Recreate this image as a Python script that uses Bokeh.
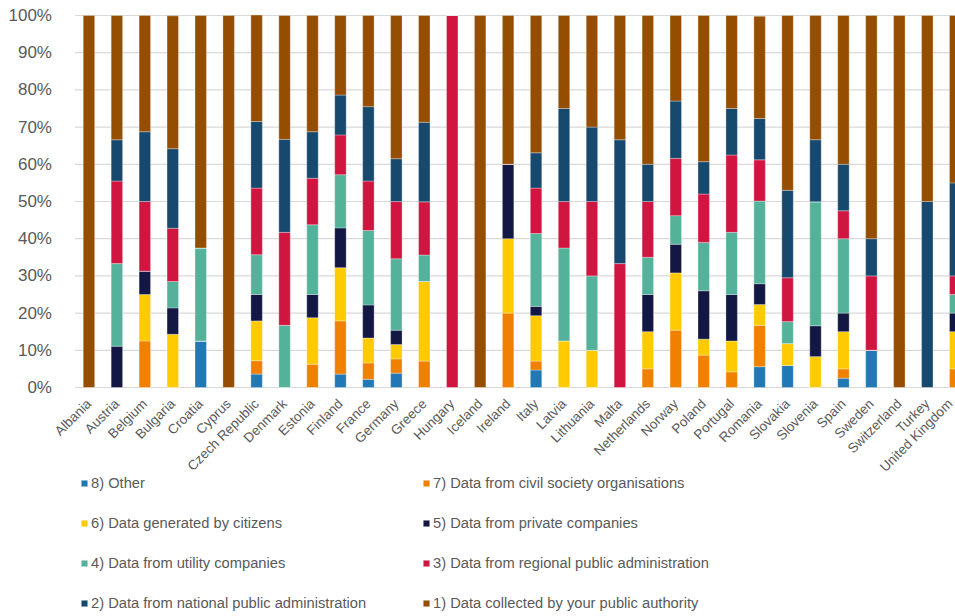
import math
from bokeh.plotting import figure
from bokeh.models import ColumnDataSource, Range1d, FixedTicker, PrintfTickFormatter, Legend, LegendItem
from bokeh.embed import file_html
from bokeh.resources import INLINE

countries = ["Albania", "Austria", "Belgium", "Bulgaria", "Croatia", "Cyprus", "Czech Republic",
             "Denmark", "Estonia", "Finland", "France", "Germany", "Greece", "Hungary", "Iceland",
             "Ireland", "Italy", "Latvia", "Lithuania", "Malta", "Netherlands", "Norway", "Poland",
             "Portugal", "Romania", "Slovakia", "Slovenia", "Spain", "Sweden", "Switzerland",
             "Turkey", "United Kingdom"]

other =    [0, 0, 0, 0, 12.5, 0, 3.6, 0, 0, 3.6, 2.2, 3.85, 0, 0, 0, 0, 4.7, 0, 0, 0, 0, 0, 0, 0, 5.6, 5.9, 0, 2.5, 10, 0, 0, 0]
civil =    [0, 0, 12.5, 0, 0, 0, 3.6, 0, 6.25, 14.3, 4.4, 3.85, 7.1, 0, 0, 20, 2.4, 0, 0, 0, 5, 15.4, 8.7, 4.2, 11.1, 0, 0, 2.5, 0, 0, 0, 5]
citizens = [0, 0, 12.5, 14.3, 0, 0, 10.7, 0, 12.5, 14.3, 6.7, 3.85, 21.4, 0, 0, 20, 12.2, 12.5, 10, 0, 10, 15.4, 4.3, 8.3, 5.6, 5.9, 8.3, 10, 0, 0, 0, 10]
private =  [0, 11.1, 6.25, 7.1, 0, 0, 7.1, 0, 6.25, 10.7, 8.9, 3.85, 0, 0, 0, 20, 2.5, 0, 0, 0, 10, 7.7, 13.0, 12.5, 5.6, 0, 8.3, 5, 0, 0, 0, 5]
utility =  [0, 22.2, 0, 7.1, 25, 0, 10.7, 16.7, 18.75, 14.3, 20, 19.2, 7.1, 0, 0, 0, 19.6, 25, 20, 0, 10, 7.7, 13.0, 16.7, 22.2, 5.9, 33.3, 20, 0, 0, 0, 5]
regional = [0, 22.2, 18.75, 14.3, 0, 0, 17.9, 25, 12.5, 10.7, 13.3, 15.4, 14.3, 100, 0, 0, 12.2, 12.5, 20, 33.3, 15, 15.4, 13.0, 20.8, 11.1, 11.8, 0, 7.5, 20, 0, 0, 5]
national = [0, 11.1, 18.75, 21.4, 0, 0, 17.9, 25, 12.5, 10.7, 20, 11.5, 21.4, 0, 0, 0, 9.5, 25, 20, 33.3, 10, 15.4, 8.7, 12.5, 11.1, 23.5, 16.7, 12.5, 10, 0, 50, 25]
own =      [100, 33.4, 31.25, 35.7, 62.5, 100, 28.6, 33.3, 31.25, 21.4, 24.5, 38.5, 28.7, 0, 100, 40, 36.9, 25, 30, 33.4, 40, 23.0, 39.3, 25, 27.5, 47.0, 33.4, 40, 60, 100, 50, 45]

series_keys = ["other", "civil", "citizens", "private", "utility", "regional", "national", "own"]
series_labels = ["8) Other", "7) Data from civil society organisations", "6) Data generated by citizens",
                 "5) Data from private companies", "4) Data from utility companies",
                 "3) Data from regional public administration", "2) Data from national public administration",
                 "1) Data collected by your public authority"]
colors = ["#2278B5", "#F08000", "#FFCA00", "#121843", "#55B29A", "#D01640", "#17486E", "#954E00"]
y_ticks = [0, 10, 20, 30, 40, 50, 60, 70, 80, 90, 100]

pos = list(range(len(countries)))
source = ColumnDataSource(dict(x=pos, other=other, civil=civil, citizens=citizens, private=private,
                               utility=utility, regional=regional, national=national, own=own))

TXT = "#595959"
FONT = "Liberation Sans"

# frame covers the whole canvas; the value axis (0..100 %) occupies y = 15..387 px,
# the space below y=0 holds the category labels and the legend
p = figure(width=955, height=616, x_range=Range1d(-3.165, 31.01), y_range=Range1d(-61.56, 104.03),
           output_backend="svg", toolbar_location=None,
           min_border_left=0, min_border_right=0, min_border_top=0, min_border_bottom=0)
p.outline_line_color = None
p.background_fill_color = "white"
p.border_fill_color = "white"

# horizontal gridlines across the category area
grid_src = ColumnDataSource(dict(y=y_ticks, x0=[-0.5] * len(y_ticks), x1=[31.5] * len(y_ticks)))
p.segment(x0="x0", x1="x1", y0="y", y1="y", source=grid_src, line_color="#D9D9D9", line_width=1.2)

renderers = p.vbar_stack(series_keys, x="x", width=0.41, source=source, color=colors,
                         line_color="white", line_width=0.5, line_alpha=0.6)

# axes
p.xaxis.fixed_location = 0
p.xaxis.ticker = FixedTicker(ticks=pos)
p.xaxis.major_label_overrides = {i: c for i, c in enumerate(countries)}
p.xaxis.major_label_orientation = math.pi / 4
p.xaxis.major_label_text_font = FONT
p.xaxis.major_label_text_font_size = "13.5px"
p.xaxis.major_label_text_color = TXT
p.xaxis.major_label_standoff = 8
p.xaxis.axis_line_color = None
p.xaxis.major_tick_line_color = None
p.xaxis.minor_tick_line_color = None

p.yaxis.fixed_location = -0.5
p.yaxis.ticker = FixedTicker(ticks=y_ticks)
p.yaxis.formatter = PrintfTickFormatter(format="%d%%")
p.yaxis.major_label_text_font = FONT
p.yaxis.major_label_text_font_size = "17px"
p.yaxis.major_label_text_color = TXT
p.yaxis.major_label_standoff = 17
p.yaxis.axis_line_color = None
p.yaxis.major_tick_line_color = None
p.yaxis.minor_tick_line_color = None

p.xgrid.grid_line_color = None
p.ygrid.grid_line_color = None

items = [LegendItem(label=lab, renderers=[r]) for lab, r in zip(series_labels, renderers)]
legend = Legend(items=items, orientation="horizontal", ncols=2, location=(80, 3),
                glyph_width=8, glyph_height=8, label_standoff=3, label_height=20, label_width=311,
                spacing=20, padding=0, margin=0, border_line_color=None, background_fill_alpha=0,
                label_text_font=FONT, label_text_font_size="14.7px", label_text_color=TXT)
p.add_layout(legend, "center")

open("out.html", "w").write(file_html(p, INLINE))
